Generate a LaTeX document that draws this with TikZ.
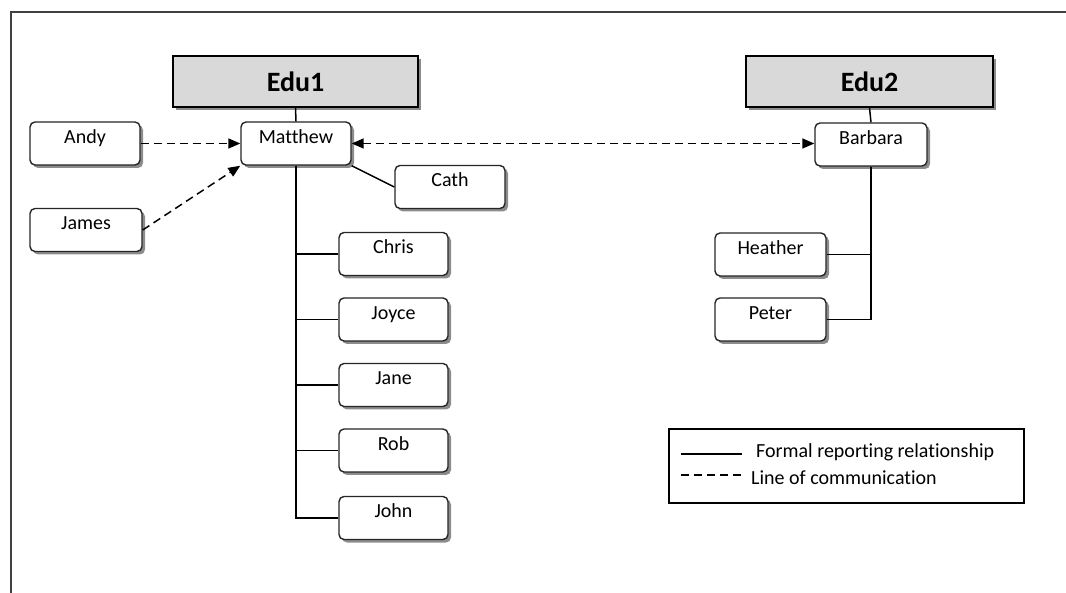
\documentclass[tikz,border=0pt]{standalone}
\usepackage{fontspec}
\setmainfont{Carlito}[Ligatures=NoCommon]
\usetikzlibrary{arrows.meta,shadows}

\tikzset{
  person/.style={draw=black!85, line width=1.4pt, rounded corners=5pt, fill=white,
    minimum width=110pt, minimum height=43pt, inner sep=0pt,
    text height=12pt, text depth=12pt,
    font=\fontsize{20}{23}\selectfont,
    drop shadow={shadow xshift=3pt, shadow yshift=-3pt, fill=black!50, opacity=.9}},
  unit/.style={draw=black, line width=1.6pt, fill=black!15,
    minimum width=245pt, minimum height=51pt, inner sep=0pt,
    font=\fontsize{28}{32}\selectfont\bfseries,
    drop shadow={shadow xshift=3pt, shadow yshift=-3pt, fill=black!50, opacity=.9}},
  formal/.style={draw=black, line width=1.5pt},
  comm/.style={draw=black, line width=1.5pt, dash pattern=on 8pt off 5pt},
  tip/.style={-{Triangle[length=12pt,width=10pt]}},
  legendtext/.style={anchor=base west, inner sep=0pt, font=\fontsize{20}{23}\selectfont},
}

\begin{document}
\begin{tikzpicture}[x=1pt, y=-1pt]
  \useasboundingbox (0,0) rectangle (1066,593);

  % page frame
  \draw[line width=2pt, black!75] (11,600) -- (11,12) -- (1070,12);

  % organisational units
  \node[unit] (edu1) at (295.5,81.5) {Edu1};
  \node[unit, minimum width=247pt] (edu2) at (869.5,81.5) {Edu2};

  % people
  \node[person] (andy)    at (85,143.5)  {Andy};
  \node[person, minimum width=112pt] (james) at (86,230) {James};
  \node[person] (matthew) at (296,143.5) {Matthew};
  \node[person] (cath)    at (450,187)   {Cath};
  \node[person, minimum width=109pt] (chris) at (393.5,254) {Chris};
  \node[person, minimum width=109pt] (joyce) at (393.5,319.5) {Joyce};
  \node[person, minimum width=109pt] (jane)  at (393.5,385) {Jane};
  \node[person, minimum width=109pt] (rob)   at (393.5,450.5) {Rob};
  \node[person, minimum width=109pt] (john)  at (393.5,518) {John};
  \node[person, minimum width=112pt] (barbara) at (871,144.5) {Barbara};
  \node[person, minimum width=111pt] (heather) at (770.5,254.5) {Heather};
  \node[person, minimum width=111pt] (peter)   at (770.5,319.5) {Peter};

  % formal reporting lines
  \draw[formal] (edu1.south) -- (matthew.north);
  \draw[formal] (edu2.south) -- (barbara.north);
  \draw[formal] (matthew.south east) -- (cath.west);
  \foreach \p in {chris,joyce,jane,rob,john}
    \draw[formal] (matthew.south) |- (\p.west);
  \foreach \p in {heather,peter}
    \draw[formal] (barbara.south) |- (\p.east);

  % lines of communication
  \draw[comm, tip] (andy.east) -- (matthew.west);
  \draw[comm, tip] (james.east) -- (matthew.south west);
  \draw[comm, {Triangle[length=12pt,width=10pt]}-{Triangle[length=12pt,width=10pt]}]
    (matthew.east) -- (matthew.east -| barbara.west);

  % legend
  \node[draw=black, line width=1.5pt, minimum width=355pt, minimum height=74pt,
        inner sep=0pt] (legend) at (846.5,466) {};
  \coordinate (solidA) at (681,454);
  \coordinate (solidB) at (742,454);
  \coordinate (dashA) at (681,475);
  \coordinate (dashB) at (742,475);
  \draw[black, line width=1.3pt] (solidA) -- (solidB);
  \draw[black, line width=1.3pt, dash pattern=on 8pt off 5pt] (dashA) -- (dashB);
  \node[legendtext] (formaltext) at (756,458) {Formal reporting relationship};
  \node[legendtext] (commtext) at (751,484) {Line of communication};
\end{tikzpicture}
\end{document}
